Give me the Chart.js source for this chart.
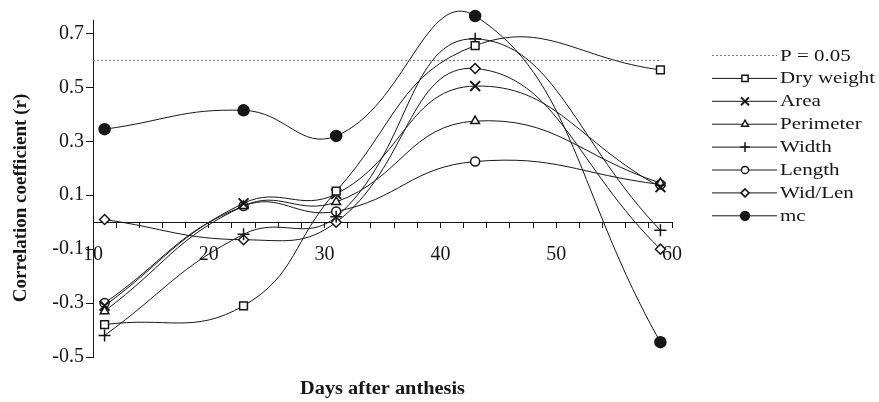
<!DOCTYPE html>
<html>
<head>
<meta charset="utf-8">
<script src="https://cdn.jsdelivr.net/npm/chart.js@4.4.1/dist/chart.umd.min.js"></script>
<style>
html, body { margin: 0; padding: 0; background: #fff; }
#wrap { width: 879px; height: 402px; }
</style>
</head>
<body>
<div id="wrap"><canvas id="corrChart" width="879" height="402"></canvas></div>
<script>
// Days after anthesis (sampling dates)
const days = [11, 23, 31, 43, 59];

// Correlation coefficients per trait
const dryWeight = [-0.38, -0.31, 0.115, 0.655, 0.565];
const area      = [-0.31, 0.07, 0.105, 0.505, 0.13];
const perimeter = [-0.33, 0.06, 0.075, 0.375, 0.145];
const width     = [-0.42, -0.045, 0.02, 0.68, -0.03];
const length    = [-0.30, 0.06, 0.04, 0.225, 0.14];
const widLen    = [0.01, -0.065, 0.0, 0.57, -0.10];
const mc        = [0.345, 0.415, 0.32, 0.765, -0.445];

// significance line P = 0.05
const pDays = [10, 59];
const pValue = [0.6, 0.6];

const yTicks = [-0.5, -0.3, -0.1, 0.1, 0.3, 0.5, 0.7];

const ink = '#161616';
const serif = "'Liberation Serif', 'DejaVu Serif', serif";

function pts(xs, ys) {
    return xs.map((x, i) => ({ x: x, y: ys[i] }));
}

function series(label, values, style, opts) {
    return Object.assign({
        label: label,
        data: pts(days, values),
        borderColor: ink,
        borderWidth: 1,
        tension: 0.45,
        capBezierPoints: false,
        clip: false,
        pointStyle: style,
        pointRadius: 5,
        pointBorderColor: ink,
        pointBackgroundColor: '#fff',
        pointBorderWidth: 1.5
    }, opts || {});
}

const datasets = [
    {
        label: 'P = 0.05',
        data: pts(pDays, pValue),
        borderColor: '#777',
        borderWidth: 1,
        borderDash: [2, 2],
        pointRadius: 0,
        clip: false
    },
    series('Dry weight', dryWeight, 'rect', { pointRadius: 5.5 }),
    series('Area', area, 'crossRot', { pointRadius: 7, pointBorderWidth: 2 }),
    series('Perimeter', perimeter, 'triangle', { pointRadius: 5 }),
    series('Width', width, 'cross', { pointRadius: 6, pointBorderWidth: 1.5 }),
    series('Length', length, 'circle', { pointRadius: 4.5 }),
    series('Wid/Len', widLen, 'rectRot', { pointRadius: 5 }),
    series('mc', mc, 'circle', { pointRadius: 5.5, pointBackgroundColor: ink })
];

// Legend + axis titles drawn by hand (line with marker in the middle)
const extras = {
    id: 'extras',
    afterDraw(chart) {
        const ctx = chart.ctx;
        const ca = chart.chartArea;
        ctx.save();

        // y title
        ctx.fillStyle = ink;
        ctx.font = "bold 19px " + serif;
        ctx.textAlign = 'center';
        ctx.textBaseline = 'middle';
        ctx.save();
        ctx.translate(21, 198);
        ctx.rotate(-Math.PI / 2);
        ctx.fillText('Correlation coefficient (r)', 0, 0);
        ctx.restore();

        // x title
        ctx.save();
        ctx.font = "bold 18px " + serif;
        ctx.translate((ca.left + ca.right) / 2, 389);
        ctx.scale(1.13, 1);
        ctx.fillText('Days after anthesis', 0, 0);
        ctx.restore();

        // legend
        const x0 = 712, x1 = 777, xm = 745, tx = 780;
        let y = 55;
        chart.data.datasets.forEach(ds => {
            ctx.save();
            ctx.strokeStyle = ds.borderColor;
            ctx.lineWidth = 1;
            ctx.setLineDash(ds.borderDash || []);
            ctx.beginPath();
            ctx.moveTo(x0, y + 0.5);
            ctx.lineTo(x1, y + 0.5);
            ctx.stroke();
            ctx.setLineDash([]);
            if (ds.pointRadius > 0) {
                ctx.fillStyle = ds.pointBackgroundColor;
                ctx.strokeStyle = ds.pointBorderColor;
                ctx.lineWidth = ds.pointBorderWidth;
                Chart.helpers.drawPoint(ctx, {
                    pointStyle: ds.pointStyle,
                    radius: ds.pointRadius * 0.8,
                    borderWidth: ds.pointBorderWidth,
                    rotation: 0
                }, xm, y + 0.5);
            }
            ctx.fillStyle = ink;
            ctx.font = "17.5px " + serif;
            ctx.textAlign = 'left';
            ctx.textBaseline = 'middle';
            ctx.translate(tx, y + 1);
            ctx.scale(1.2, 1);
            ctx.fillText(ds.label, 0, 0);
            ctx.restore();
            y += 22.9;
        });
        ctx.restore();
    }
};

const corrChart = new Chart(document.getElementById('corrChart').getContext('2d'), {
    type: 'line',
    data: { datasets: datasets },
    options: {
        responsive: false,
        devicePixelRatio: 1,
        animation: false,
        events: [],
        layout: { padding: { left: 0, right: 207, top: 20, bottom: 45 } },
        plugins: {
            legend: { display: false },
            tooltip: { enabled: false }
        },
        scales: {
            x: {
                type: 'linear',
                min: 10,
                max: 60,
                position: { y: 0 },
                border: { display: true, color: ink, width: 1 },
                grid: { display: true, drawOnChartArea: false, drawTicks: true, tickLength: 5, tickColor: ink },
                ticks: {
                    stepSize: 2,
                    autoSkip: false,
                    maxRotation: 0,
                    padding: 16,
                    color: ink,
                    font: { family: serif, size: 20 },
                    callback: v => (v % 10 === 0 ? String(v) : '')
                }
            },
            y: {
                type: 'linear',
                min: -0.5,
                max: 0.75,
                afterBuildTicks: scale => { scale.ticks = yTicks.map(v => ({ value: v })); },
                afterFit: scale => { scale.width = 93; },
                border: { display: true, color: ink, width: 1 },
                grid: { display: true, drawOnChartArea: false, drawTicks: true, tickLength: 7, tickColor: ink },
                ticks: {
                    padding: 2,
                    color: ink,
                    font: { family: serif, size: 20 },
                    callback: v => v.toFixed(1)
                }
            }
        }
    },
    plugins: [extras]
});
</script>
</body>
</html>
